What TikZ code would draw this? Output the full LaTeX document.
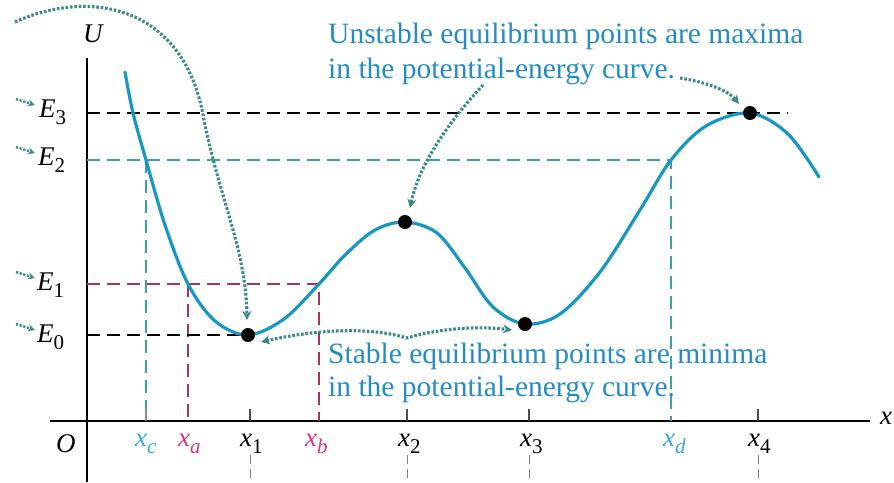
\documentclass[tikz,border=0pt]{standalone}
\usepackage{fontspec}
\setmainfont{Liberation Serif}
\usetikzlibrary{arrows.meta}
\definecolor{curvecol}{RGB}{24,152,192}
\definecolor{textblue}{RGB}{35,140,196}
\definecolor{dotcol}{RGB}{58,138,140}
\definecolor{tealdash}{RGB}{60,160,170}
\definecolor{crimdash}{RGB}{170,50,95}
\definecolor{labcyan}{RGB}{55,165,222}
\definecolor{labmag}{RGB}{222,50,130}
\newcommand\Esub[1]{\textit{E}\raisebox{-7pt}{\fontsize{21}{21}\selectfont #1}}
\newcommand\xsub[1]{\textit{x}\raisebox{-7pt}{\fontsize{21}{21}\selectfont #1}}
\tikzset{
  axisline/.style={black, line width=1.8pt},
  blackdash/.style={black, line width=1.4pt, dash pattern=on 13pt off 7pt},
  tealdashed/.style={tealdash, line width=1.3pt, dash pattern=on 13pt off 7pt},
  crimdashed/.style={crimdash, line width=1.3pt, dash pattern=on 13pt off 7pt},
  graydash/.style={gray, line width=1pt, dash pattern=on 9pt off 5pt},
  tickmark/.style={black!70, line width=1.3pt},
  dotarr/.style={draw=dotcol, line width=3.1pt, dash pattern=on 2.6pt off 1.8pt, -{Stealth[length=9pt,width=9pt]}},
  dotarrboth/.style={draw=dotcol, line width=3.1pt, dash pattern=on 2.6pt off 1.8pt, {Stealth[length=9pt,width=9pt]}-{Stealth[length=9pt,width=9pt]}},
  pointer/.style={draw=dotcol, line width=2.4pt, dash pattern=on 2.2pt off 1.6pt, -{Stealth[length=7pt,width=7pt]}},
  eqdot/.style={circle, fill=black, inner sep=0pt, minimum size=14pt},
  elab/.style={font=\rmfamily\fontsize{27}{30}\selectfont, inner sep=0pt, anchor=base west},
  xlab/.style={font=\rmfamily\fontsize{27}{30}\selectfont, inner sep=0pt, anchor=base west},
  note/.style={font=\rmfamily\fontsize{29.5}{34}\selectfont, text=textblue, inner sep=0pt, anchor=base west},
}
\begin{document}
\begin{tikzpicture}[x=1pt,y=-1pt]
\useasboundingbox (0,0) rectangle (894,482);
% axes
\draw[axisline] (87,58) -- (87,482);
\draw[axisline] (50,421) -- (870,421);
\node[xlab] (U) at (83,42) {\textit{U}};
\node[xlab] (xax) at (880,424) {\textit{x}};
\node[xlab] (O) at (56,452) {\textit{O}};
% dashed energy lines
\draw[blackdash] (87,113) -- (788,113);
\draw[tealdashed] (87,160) -- (671,160) -- (671,421);
\draw[tealdashed] (146,160) -- (146,421);
\draw[crimdashed] (87,284) -- (319,284) -- (319,421);
\draw[crimdashed] (188,284) -- (188,421);
\draw[blackdash] (87,335) -- (248,335);
% ticks
\foreach \xx in {250,407,529,758} {
  \draw[tickmark] (\xx,409) -- (\xx,421);
  \draw[graydash] (\xx,455) -- (\xx,482);
}
\draw[tickmark, black!45] (146,409) -- (146,421);
% curve
\draw[curvecol, line width=3.2pt, line cap=round]
  plot[smooth, tension=0.55] coordinates {(125,72) (133,113) (146,160) (165,225) (188,284) (215,321) (248,335) (284,319) (319,284) (345,255) (375,230) (405,222) (437,233) (465,268) (493,307) (525,324) (560,314) (600,272) (640,210) (671,160) (706,126) (750,113) (788,134) (819,177)};
% equilibrium points
\node[eqdot] (m1) at (248,335) {};
\node[eqdot] (M2) at (405,222) {};
\node[eqdot] (m3) at (525,324) {};
\node[eqdot] (M4) at (750,113) {};
% energy labels
\node[elab] (E3) at (39,117) {\Esub{3}};
\node[elab] (E2) at (38,165) {\Esub{2}};
\node[elab] (E1) at (37,290) {\Esub{1}};
\node[elab] (E0) at (37,342) {\Esub{0}};
\foreach \b in {117,165,290,342} {
  \draw[pointer] (16,\b-18) -- (35,\b-12);
}
% x labels
\node[xlab, text=labcyan] (xc) at (135,446) {\xsub{\textit{c}}};
\node[xlab, text=labmag] (xa) at (178,446) {\xsub{\textit{a}}};
\node[xlab] (x1) at (240,446) {\xsub{1}};
\node[xlab, text=labmag] (xb) at (305,446) {\xsub{\textit{b}}};
\node[xlab] (x2) at (398,446) {\xsub{2}};
\node[xlab] (x3) at (520,446) {\xsub{3}};
\node[xlab, text=labcyan] (xd) at (663,446) {\xsub{\textit{d}}};
\node[xlab] (x4) at (748,446) {\xsub{4}};
% notes
\node[note] (un1) at (328,43) {Unstable equilibrium points are maxima};
\node[note] (un2) at (328,78) {in the potential-energy curve.};
\node[note] (st1) at (328,363) {Stable equilibrium points are minima};
\node[note] (st2) at (328,396) {in the potential-energy curve.};
% dotted arrows
\coordinate (a1s) at (15,22);
\coordinate (a1m) at (204,120);
\coordinate (a1e) at (247,320);
\draw[dotarr] (a1s) .. controls (90,-12) and (185,5) .. (a1m) .. controls (220,200) and (246,250) .. (a1e);
\coordinate (a2s) at (483,85);
\coordinate (a2e) at (410,208);
\draw[dotarr] (a2s) .. controls (455,115) and (420,160) .. (a2e);
\coordinate (a3s) at (680,78);
\coordinate (a3e) at (739,104);
\draw[dotarr] (a3s) .. controls (705,82) and (728,90) .. (a3e);
\coordinate (a4s) at (261,342);
\coordinate (a4m) at (407,338);
\coordinate (a4e) at (512,330);
\draw[dotarrboth] (a4s) .. controls (300,333) and (360,324) .. (a4m) .. controls (440,328) and (480,326) .. (a4e);
\end{tikzpicture}
\end{document}
